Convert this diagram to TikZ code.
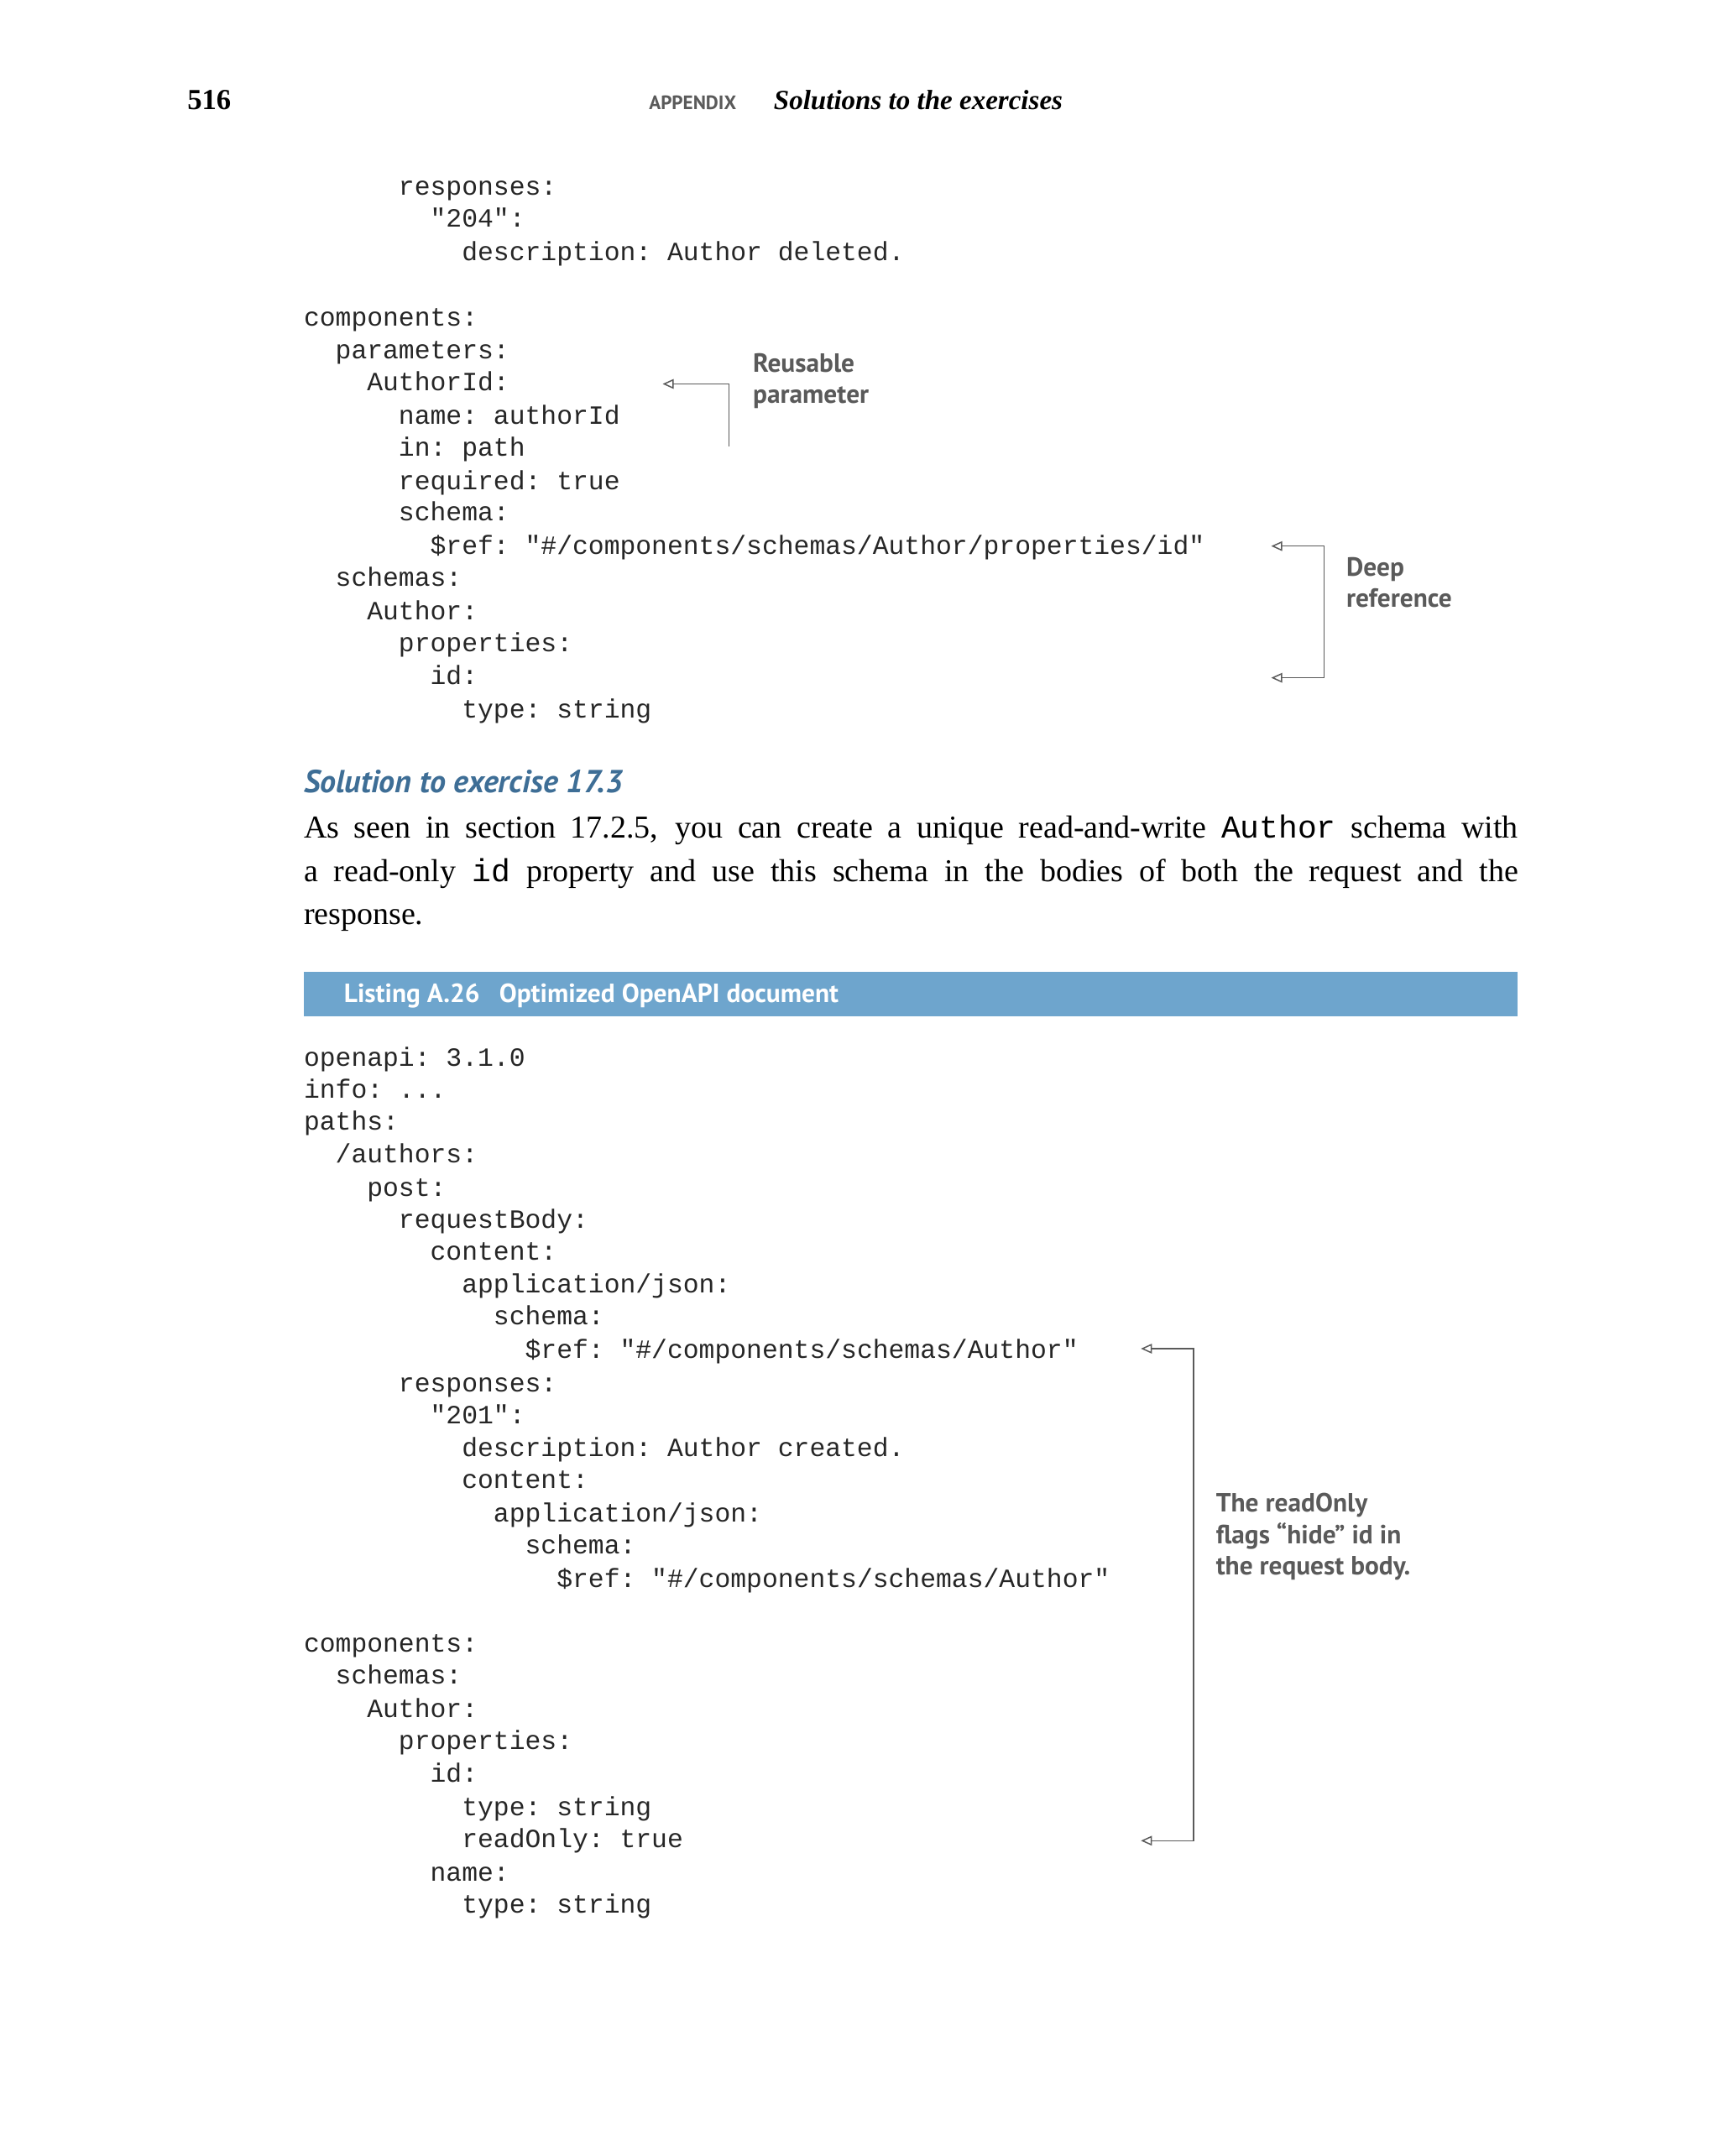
\documentclass[tikz,border=0pt]{standalone}
\usepackage{fontspec}
\setmainfont{Liberation Serif}
\setmonofont{Liberation Mono}
\newfontfamily\hsans{PT Sans}
\usetikzlibrary{arrows.meta}
\definecolor{gr}{RGB}{90,90,90}
\definecolor{hblue}{RGB}{62,110,150}
\definecolor{barblue}{RGB}{110,165,205}
\tikzset{
 code/.style={anchor=base west,inner sep=0pt,font=\fontsize{19}{19}\selectfont\ttfamily,text=black!85},
 note/.style={anchor=base west,inner sep=0pt,align=left,font=\fontsize{19}{22.5}\selectfont\hsans\bfseries,text=gr},
 conn/.style={draw=gr,line width=0.9pt,-{Triangle[open,length=8pt,width=7pt]}}
}
\begin{document}
\begin{tikzpicture}[x=1pt,y=-1pt]
\useasboundingbox (0,0) rectangle (1240,1555.5);
\fill[white] (0,0) rectangle (1240,1555.5);
\node[anchor=base west,inner sep=0pt,font=\fontsize{21}{21}\selectfont\bfseries] (pg) at (135,79) {516};
\node[anchor=base west,inner sep=0pt,font=\fontsize{14}{14}\selectfont\hsans\bfseries,text=gr] (ap) at (468,79) {APPENDIX};
\node[anchor=base west,inner sep=0pt,font=\fontsize{20}{20}\selectfont\bfseries\itshape] (st) at (558,79) {Solutions to the exercises};
% first listing
\def\cx{219}\def\cw{11.4}
\foreach \lv/\yy/\t [count=\i] in {
 3/141/{responses:},4/164/{"204":},5/188/{description: Author deleted.},
 0/235/{components:},1/259/{parameters:},2/282/{AuthorId:},3/306/{name: authorId},3/329/{in: path},3/353/{required: true},3/376/{schema:},4/400/{\$ref: "\#/components/schemas/Author/properties/id"},
 1/423/{schemas:},2/447/{Author:},3/470/{properties:},4/494/{id:},5/518/{type: string}}
 \node[code] (a\i) at (\cx+\lv*2*\cw,\yy) {\t};
\coordinate (r1) at (526,277);
\coordinate (r1b) at (526,322);
\coordinate (r1t) at (478,277);
\draw[conn] (r1b) -- (r1) -- (r1t);
\node[note] (n1) at (543,291) {Reusable\\parameter};
\coordinate (d1) at (917,394);\coordinate (d2) at (917,489);
\coordinate (d1c) at (955,394);\coordinate (d2c) at (955,489);
\draw[conn] (d2c) -- (d1c) -- (d1);
\draw[conn] (d1c) -- (d2c) -- (d2);
\node[note] (n2) at (971,438) {Deep\\reference};
\node[anchor=base west,inner sep=0pt,font=\fontsize{23}{23}\selectfont\hsans\bfseries\itshape,text=hblue] (sol) at (219,572) {Solution to exercise 17.3};
\node[anchor=north west,inner sep=0pt,text width=876pt,align=justify,font=\fontsize{23}{31}\selectfont] (par) at (219,588) {As seen in section 17.2.5, you can create a unique read-and-write {\ttfamily Author} schema with\linebreak a read-only {\ttfamily id} property and use this schema in the bodies of both the request and the\linebreak response.};
\fill[barblue] (219,701) rectangle (1095,733);
\node[anchor=base west,inner sep=0pt,font=\fontsize{19}{19}\selectfont\hsans\bfseries,text=white] (lst) at (248,723) {Listing A.26\hspace{14pt}Optimized OpenAPI document};
\foreach \lv/\yy/\t [count=\i] in {
 0/769/{openapi: 3.1.0},0/792/{info: ...},0/815/{paths:},1/839/{/authors:},2/863/{post:},3/886/{requestBody:},4/909/{content:},5/933/{application/json:},6/956/{schema:},7/980/{\$ref: "\#/components/schemas/Author"},
 3/1004/{responses:},4/1027/{"201":},5/1051/{description: Author created.},5/1074/{content:},6/1098/{application/json:},7/1121/{schema:},8/1145/{\$ref: "\#/components/schemas/Author"},
 0/1192/{components:},1/1215/{schemas:},2/1239/{Author:},3/1262/{properties:},4/1286/{id:},5/1310/{type: string},5/1333/{readOnly: true},4/1357/{name:},5/1380/{type: string}}
 \node[code] (b\i) at (\cx+\lv*2*\cw,\yy) {\t};
\coordinate (e1) at (823,973);\coordinate (e2) at (823,1328);
\coordinate (e1c) at (861,973);\coordinate (e2c) at (861,1328);
\draw[conn] (e2c) -- (e1c) -- (e1);
\draw[conn] (e1c) -- (e2c) -- (e2);
\node[note] (n3) at (877,1136) {The readOnly\\flags “hide” id in\\the request body.};
\end{tikzpicture}
\end{document}
